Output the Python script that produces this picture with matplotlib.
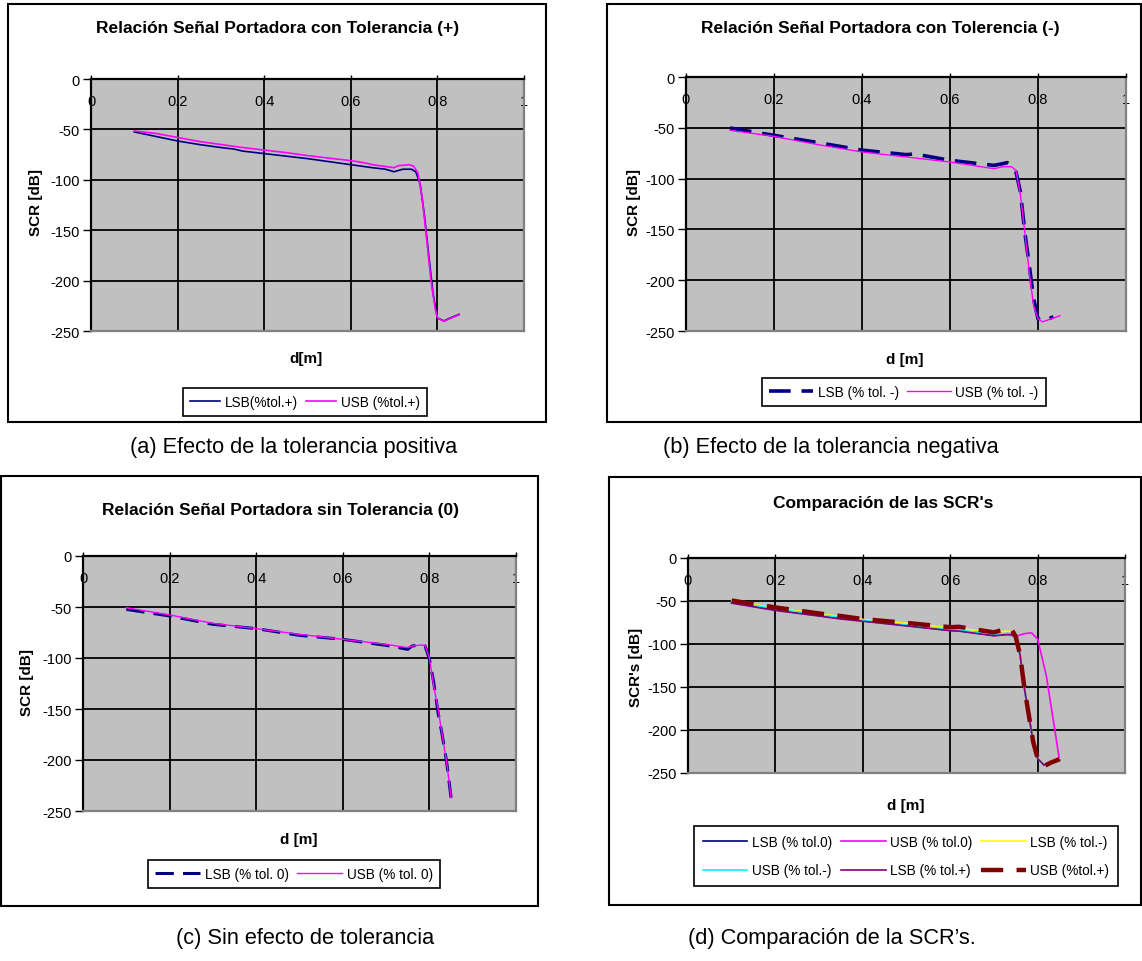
import matplotlib
matplotlib.use('Agg')
import matplotlib.pyplot as plt
from matplotlib.patches import Rectangle
from matplotlib.transforms import offset_copy
import matplotlib.font_manager as fm

W, H, DPI = 1142, 962, 100

# ---------------- data ----------------
x_ticks = [0, 0.2, 0.4, 0.6, 0.8, 1.0]
x_tick_labels = ['0', '0.2', '0.4', '0.6', '0.8', '1']
y_ticks = [0, -50, -100, -150, -200, -250]
y_tick_labels = ['0', '-50', '-100', '-150', '-200', '-250']

# (a) tolerance +
a_lsb_x = [0.10, 0.15, 0.20, 0.25, 0.30, 0.33, 0.35, 0.40, 0.45, 0.50, 0.55, 0.60, 0.65, 0.68,
           0.70, 0.72, 0.74, 0.75, 0.76, 0.77, 0.78, 0.79, 0.80, 0.815, 0.83, 0.85]
a_lsb_y = [-52.5, -57, -61.5, -65, -68, -69.5, -71.5, -74, -76.5, -79, -82, -85, -88, -89.5,
           -92, -89.5, -89.5, -92, -104, -135, -175, -213, -237, -240, -237, -233.5]
a_usb_x = [0.10, 0.15, 0.20, 0.25, 0.30, 0.35, 0.40, 0.45, 0.50, 0.55, 0.60, 0.63, 0.65, 0.70,
           0.71, 0.735, 0.745, 0.755, 0.765, 0.775, 0.785, 0.795, 0.80, 0.815, 0.83, 0.85]
a_usb_y = [-51.5, -54, -58, -62, -65, -68, -70.5, -73, -76, -78.5, -81, -83, -85, -88,
           -86, -85, -86.5, -93, -118, -158, -200, -228, -237, -240.5, -237.5, -234]

# (b) tolerance -
b_lsb_x = [0.10, 0.20, 0.30, 0.40, 0.50, 0.52, 0.60, 0.70, 0.72, 0.73, 0.74, 0.75, 0.76, 0.77,
           0.78, 0.79, 0.80, 0.81, 0.835]
b_lsb_y = [-50.2, -57.4, -64.6, -72, -76.4, -75.8, -82, -87, -85.3, -84.3, -87, -93.5, -113, -152.6,
           -185, -218, -238, -240.5, -236]
b_usb_x = [0.10, 0.20, 0.30, 0.40, 0.50, 0.60, 0.70, 0.72, 0.74, 0.75, 0.76, 0.77, 0.78, 0.79,
           0.80, 0.81, 0.83, 0.85]
b_usb_y = [-52.5, -58.4, -66.6, -73.8, -78.7, -83.7, -90.2, -88.3, -88.3, -92, -116, -152.6, -192, -225,
           -238, -241, -238, -235]

# (c) no tolerance
c_x = [0.10, 0.20, 0.30, 0.40, 0.50, 0.60, 0.70, 0.75, 0.76, 0.78, 0.79, 0.80, 0.81, 0.82,
       0.83, 0.84, 0.85]
c_lsb_y = [-52.3, -58.8, -67, -71.2, -77.8, -81.7, -87.6, -91.5, -88.2, -87.3, -88.2, -101, -124, -153.6,
           -176.5, -202.6, -237]
c_usb_y = [-50.7, -57.8, -66, -71.2, -76.8, -81.7, -86.6, -89.9, -88.2, -87.3, -87.6, -99.7, -127.5, -150,
           -176.5, -202.6, -237]

# (d) comparison
d_x = [0.10, 0.20, 0.30, 0.35, 0.40, 0.50, 0.60, 0.62, 0.70, 0.73, 0.74, 0.75, 0.76, 0.77,
       0.78, 0.79, 0.80, 0.815, 0.83, 0.85]
d_lsb0_y = [-52, -60, -67, -70, -73, -78.5, -84, -84.5, -90, -88.5, -88.5, -91.5, -113, -152,
            -183, -214, -233, -241, -237, -235]
d_usb0_x = [0.10, 0.20, 0.30, 0.40, 0.50, 0.60, 0.70, 0.73, 0.75, 0.77, 0.786, 0.80, 0.82, 0.84, 0.85]
d_usb0_y = [-51, -59, -66, -72.5, -78, -83.5, -88.5, -89, -91, -88, -87, -94, -137, -202, -235]
d_lsbm_y = [-50, -58, -65, -68, -71.5, -76, -81.5, -82, -86.5, -85, -85.5, -91, -113, -151,
            -182, -213, -232, -241, -237.5, -234]
d_usbm_y = [-51, -59, -66, -69, -72.5, -78, -83, -84, -88.5, -88, -88, -91, -114, -152,
            -184, -215, -233, -241, -237, -235]
d_lsbp_y = [-52.5, -61, -67.5, -71, -73.5, -79, -84.5, -85, -90.5, -89, -89, -92, -113, -152,
            -183, -214, -233, -241, -237, -235]
d_usbp_y = [-49.5, -57.5, -64.5, -67.5, -71, -75.5, -80.5, -80, -86.5, -82, -82.5, -91.5, -113, -152,
            -183, -214, -233, -242, -238, -234]

# ---------------- styling ----------------
FONT = 'Liberation Sans'
names = {f.name for f in fm.fontManager.ttflist}
NARROW = 'Liberation Sans Narrow' if 'Liberation Sans Narrow' in names else FONT
plt.rcParams['font.family'] = [FONT, 'DejaVu Sans']

fig = plt.figure(figsize=(W / DPI, H / DPI), dpi=DPI)
fig.patch.set_facecolor('white')


def fx(x):
    return x / W


def fy(y):
    return 1 - y / H


def box(l, t, r, b):
    fig.add_artist(Rectangle((fx(l), fy(b)), (r - l) / W, (b - t) / H, transform=fig.transFigure,
                             fill=False, edgecolor='black', linewidth=1.5))


def make_axes(l, t, r, b):
    ax = fig.add_axes([fx(l), fy(b), (r - l) / W, (b - t) / H])
    ax.set_facecolor('#C0C0C0')
    ax.set_xlim(0, 1)
    ax.set_ylim(-250, 0)
    ax.set_xticks(x_ticks)
    ax.set_yticks(y_ticks)
    ax.set_yticklabels(y_tick_labels, fontsize=10.5)
    ax.tick_params(axis='x', top=True, bottom=False, labeltop=False, labelbottom=False,
                   direction='out', length=3, width=1)
    ax.tick_params(axis='y', left=True, direction='out', length=6, width=1, pad=2)
    ax.grid(True, color='black', linewidth=1.3)
    ax.set_axisbelow(True)
    for s in ['top', 'left']:
        ax.spines[s].set_color('black')
        ax.spines[s].set_linewidth(1.6)
    for s in ['right', 'bottom']:
        ax.spines[s].set_color('#808080')
        ax.spines[s].set_linewidth(1.6)
    tr = offset_copy(ax.get_xaxis_transform(), fig=fig, x=0, y=-22, units='dots')
    for xv, lab in zip(x_ticks, x_tick_labels):
        ax.text(xv, 1, lab, transform=tr, ha='center', va='center', fontsize=10.5, zorder=0.3)
    return ax


def texts(title, tc, xlabel, xc, ylabel, yc):
    fig.text(fx(tc[0]), fy(tc[1]), title, ha='center', va='center', fontsize=12.5, fontweight='bold')
    fig.text(fx(xc[0]), fy(xc[1]), xlabel, ha='center', va='center', fontsize=11, fontweight='bold')
    fig.text(fx(yc[0]), fy(yc[1]), ylabel, ha='center', va='center', fontsize=11, fontweight='bold',
             rotation=90)


def legend(ax, center, ncol, hl, handles=None, bp=0.55, ls=0.35):
    kw = {}
    if handles is not None:
        kw['handles'] = handles
    leg = ax.legend(loc='center', bbox_to_anchor=(fx(center[0]), fy(center[1])),
                    bbox_transform=fig.transFigure, ncol=ncol, frameon=True, fancybox=False,
                    edgecolor='black', framealpha=1, fontsize=9.8, handlelength=hl,
                    borderpad=bp, columnspacing=0.6, handletextpad=0.35, labelspacing=ls,
                    borderaxespad=0, **kw)
    leg.get_frame().set_linewidth(1.2)
    return leg


NAVY, MAG, YEL, CYA, PUR, DRED = '#000080', '#FF00FF', '#FFFF00', '#00FFFF', '#800080', '#800000'

# ---- (a)
box(8, 5, 546, 423)
ax = make_axes(91, 80, 524, 332)
ax.plot(a_lsb_x, a_lsb_y, color=NAVY, lw=1.2, label='LSB(%tol.+)')
ax.plot(a_usb_x, a_usb_y, color=MAG, lw=1.2, label='USB (%tol.+)')
texts('Relación Señal Portadora con Tolerancia (+)', (278, 29), 'd[m]', (306, 359),
      'SCR [dB]', (36, 203))
legend(ax, (305, 403), 2, 2.2)

# ---- (b)
box(607, 5, 1141, 423)
ax = make_axes(686, 78, 1126, 332)
ax.plot(b_lsb_x, b_lsb_y, color=NAVY, lw=2.6, dashes=(6, 3), label='LSB (% tol. -)')
ax.plot(b_usb_x, b_usb_y, color=MAG, lw=1.0, label='USB (% tol. -)')
texts('Relación Señal Portadora con Tolerencia (-)', (880, 28), 'd [m]', (905, 360),
      'SCR [dB]', (634, 203))
legend(ax, (904, 393), 2, 3.2)

# ---- (c)
box(1, 477, 538, 907)
ax = make_axes(83, 557, 516, 812)
ax.plot(c_x, c_lsb_y, color=NAVY, lw=2.2, dashes=(6, 3), label='LSB (% tol. 0)')
ax.plot(c_x, c_usb_y, color=MAG, lw=1.0, label='USB (% tol. 0)')
texts('Relación Señal Portadora sin Tolerancia (0)', (281, 511), 'd [m]', (299, 840),
      'SCR [dB]', (27, 683))
legend(ax, (294, 875), 2, 3.3)

# ---- (d)
box(609, 478, 1141, 906)
ax = make_axes(688, 559, 1125, 774)
l1, = ax.plot(d_x, d_lsb0_y, color=NAVY, lw=1.2, label='LSB (% tol.0)')
l2, = ax.plot(d_usb0_x, d_usb0_y, color=MAG, lw=1.2, label='USB (% tol.0)')
l3, = ax.plot(d_x, d_lsbm_y, color=YEL, lw=1.2, label='LSB (% tol.-)')
l4, = ax.plot(d_x, d_usbm_y, color=CYA, lw=1.2, label='USB (% tol.-)')
l5, = ax.plot(d_x, d_lsbp_y, color=PUR, lw=1.2, label='LSB (% tol.+)')
l6, = ax.plot(d_x, d_usbp_y, color=DRED, lw=3.2, dashes=(5, 3), label='USB (%tol.+)')
texts("Comparación de las SCR's", (883, 504), 'd [m]', (906, 806), "SCR's [dB]", (636, 667))
legend(ax, (906, 857), 3, 3.3, handles=[l1, l4, l2, l5, l3, l6], bp=0.65, ls=1.1)

# ---- captions
cap = dict(ha='center', va='center', fontsize=15.7, family=[NARROW, 'DejaVu Sans'])
fig.text(fx(294), fy(447), '(a) Efecto de la tolerancia positiva', **cap)
fig.text(fx(831), fy(447), '(b) Efecto de la tolerancia negativa', **cap)
fig.text(fx(305), fy(939), '(c) Sin efecto de tolerancia', **cap)
fig.text(fx(832), fy(939), "(d) Comparación de la SCR’s.", **cap)

fig.savefig('out.png', dpi=DPI, facecolor='white')
